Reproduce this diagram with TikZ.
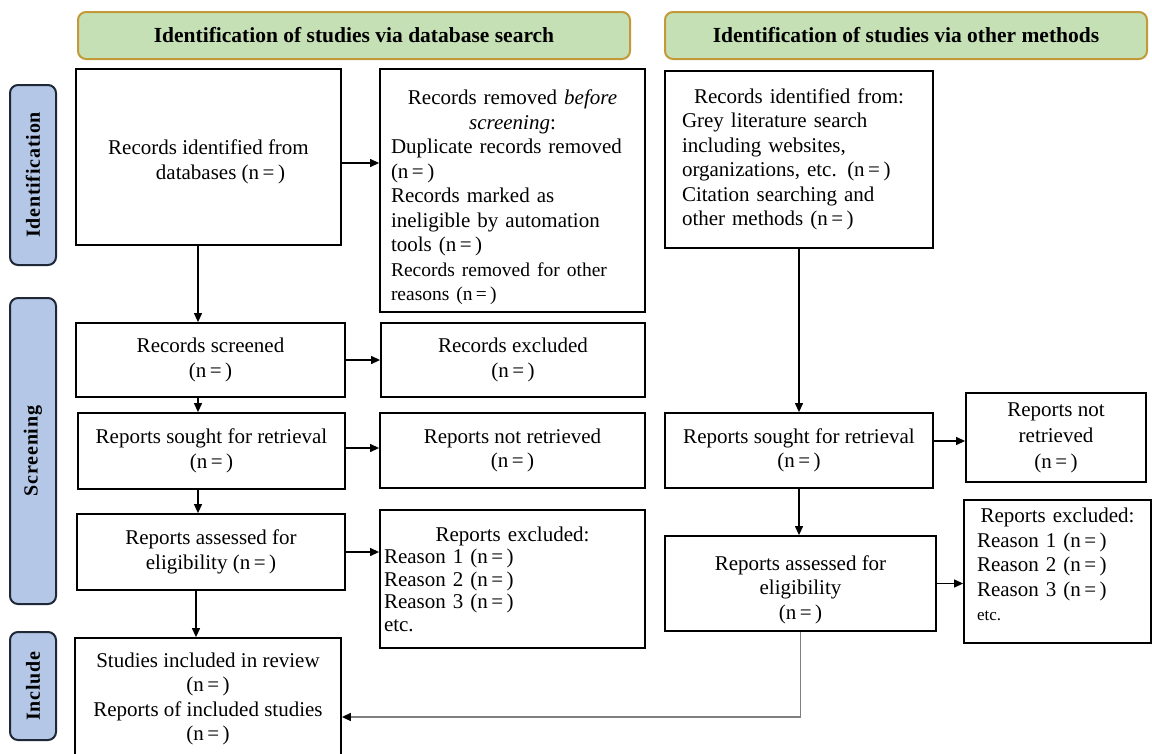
\documentclass[tikz,border=0pt]{standalone}
\usepackage{fontspec}
\setmainfont{Liberation Serif}
\newfontfamily\pillfont[LetterSpace=4]{Liberation Serif}
\usetikzlibrary{arrows.meta}
\definecolor{hdrfill}{HTML}{C5E0B4}
\definecolor{hdrline}{HTML}{C39A3A}
\definecolor{pillfill}{HTML}{B4C7E7}
\definecolor{pillline}{HTML}{1E2836}
\definecolor{greyline}{HTML}{7F7F7F}
\newcommand\ctrline[1]{\makebox[\linewidth][c]{#1}}
\newcommand\nn{(n\,=\,)}
\newcommand\uprule[1]{\rule{0pt}{#1}}
\newcommand\dnrule[1]{\rule[-#1]{0pt}{#1}}
\newcommand\bodyfont{\fontsize{21}{24.5}\selectfont}
\newcommand\smallbody{\fontsize{19.5}{23.5}\selectfont}
\tikzset{
  box/.style={draw=black, line width=1.8pt, fill=white, inner sep=0pt, align=center, font=\bodyfont},
  lbox/.style={draw=black, line width=1.8pt, fill=white, inner ysep=0pt, align=left, font=\bodyfont},
  hdr/.style={draw=hdrline, line width=2pt, fill=hdrfill, rounded corners=8pt, font=\fontsize{21.5}{25}\selectfont\bfseries},
  pill/.style={draw=pillline, line width=2pt, fill=pillfill, rounded corners=8pt, font=\fontsize{20}{24}\selectfont\pillfont\bfseries},
  arr/.style={draw=black, line width=1.2pt, -{Triangle[length=9pt,width=8pt]}},
  garr/.style={draw=greyline, line width=1.6pt, -{Triangle[length=9pt,width=8pt,color=black]}}
}
\begin{document}
\begin{tikzpicture}[x=1pt,y=-1pt]
\useasboundingbox (0,0) rectangle (1152,753);

% headers
\node[hdr, minimum width=552, minimum height=47] (h1) at (354,35.5) {Identification of studies via database search};
\node[hdr, minimum width=482, minimum height=47] (h2) at (906,35.5) {Identification of studies via other methods};

% phase pills
\node[pill, minimum width=180, minimum height=46, rotate=90] (pid) at (33,175) {Identification};
\node[pill, minimum width=306, minimum height=46, rotate=90] (pscr) at (33,451) {Screening};
\node[pill, minimum width=108, minimum height=46, rotate=90] (pinc) at (33,686) {Include};

% left column
\node[box, minimum width=265, minimum height=176] (A) at (208.5,157) {\uprule{24.5pt}Records identified from\\ \hspace*{24pt}databases \nn};
\node[lbox, inner xsep=11pt, text width=243pt, minimum height=243] (B) at (512.5,190.5)
  {\ctrline{\uprule{29pt}Records removed \textit{before}}\\ \ctrline{\textit{screening}:}\\ Duplicate records removed\\ \nn\\ Records marked as\\ ineligible by automation\\ tools \nn\\ {\smallbody Records removed for other}\\ {\smallbody reasons \nn}};
\node[box, minimum width=269, minimum height=74] (D) at (210.5,360) {Records screened\\ \nn};
\node[box, minimum width=264, minimum height=74] (E) at (513,360) {Records excluded\\ \nn};
\node[box, minimum width=267, minimum height=76] (F) at (211.5,451) {Reports sought for retrieval\\ \nn};
\node[box, minimum width=265, minimum height=75] (G) at (512.5,450.5) {Reports not retrieved\\ \nn};
\node[box, minimum width=268, minimum height=76] (H) at (211,552) {Reports assessed for\\ eligibility \nn};
\node[lbox, inner xsep=4pt, text width=257pt, minimum height=138, font=\fontsize{21}{22.5}\selectfont] (I) at (512.5,579)
  {\ctrline{Reports excluded:}\\ Reason 1 \nn\\ Reason 2 \nn\\ Reason 3 \nn\\ etc.};
\node[box, minimum width=266, minimum height=122] (J) at (208,699) {Studies included in review\\ \nn\\ Reports of included studies\\ \nn};

% right column
\node[lbox, inner xsep=17pt, text width=234pt, minimum height=177] (C) at (799,159.5)
  {\ctrline{Records identified from:}\\ Grey literature search\\ including websites,\\ organizations, etc. \nn\\ Citation searching and\\ other methods \nn};
\node[box, minimum width=268, minimum height=75] (K) at (799,450.5) {Reports sought for retrieval\\ \nn};
\node[box, minimum width=180, minimum height=89, font=\fontsize{21}{26}\selectfont] (L) at (1056,437.5) {Reports not\\ retrieved\\ \nn};
\node[box, minimum width=271, minimum height=95] (M) at (800.5,583.5) {\uprule{27pt}Reports assessed for\\ eligibility\\ \nn};
\node[lbox, inner xsep=13pt, text width=161pt, minimum height=143] (N) at (1057.5,571.5)
  {\ctrline{Reports excluded:}\\ Reason 1 \nn\\ Reason 2 \nn\\ Reason 3 \nn\\ {\fontsize{17}{20}\selectfont etc.\dnrule{14pt}}};

% helper coordinates
\coordinate (lx) at (198,0);
\coordinate (lx2) at (196,0);
\coordinate (jy) at (0,717);
\coordinate (ky) at (0,441);

% connectors left
\draw[arr] ([yshift=-6pt]A.east) -- ([yshift=-6pt]A.east -| B.west);
\draw[arr] (A.south -| lx) -- (D.north -| lx);
\draw[arr] (D.east) -- (D.east -| E.west);
\draw[arr] (D.south -| lx) -- (F.north -| lx);
\draw[arr] ([yshift=3pt]F.east) -- ([yshift=3pt]F.east -| G.west);
\draw[arr] (F.south -| lx) -- (H.north -| lx);
\draw[arr] (H.east) -- (H.east -| I.west);
\draw[arr] (H.south -| lx2) -- (J.north -| lx2);

% connectors right
\draw[arr] (C.south) -- (K.north);
\draw[arr] (K.east |- ky) -- (L.west |- ky);
\draw[arr] (K.south -| C.south) -- (M.north -| C.south);
\draw[arr] (M.east) -- (M.east -| N.west);
\draw[garr] (M.south) |- (J.east |- jy);
\end{tikzpicture}
\end{document}
